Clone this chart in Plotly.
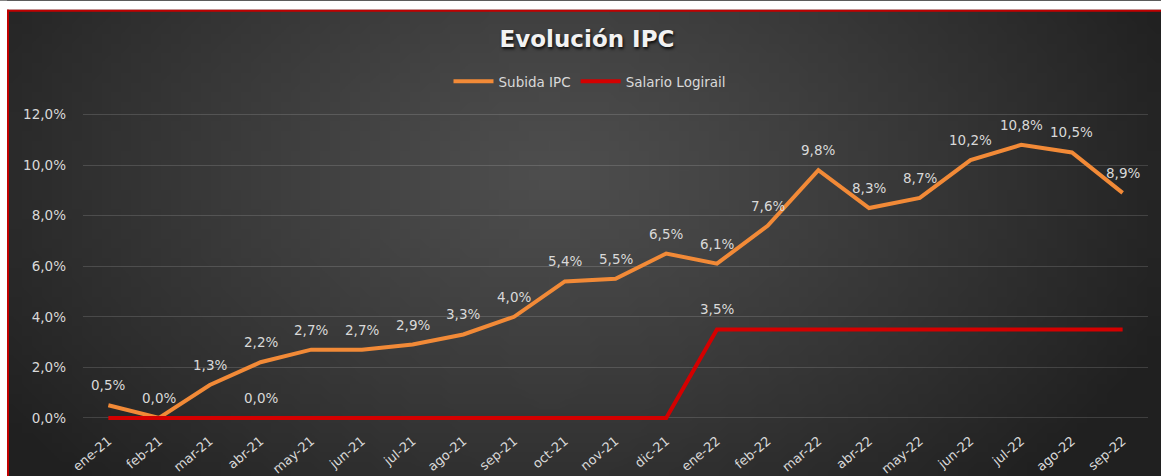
import base64, struct, zlib
import numpy as np
import plotly.graph_objects as go

# ---------------- data ----------------
months = ["ene-21", "feb-21", "mar-21", "abr-21", "may-21", "jun-21", "jul-21",
          "ago-21", "sep-21", "oct-21", "nov-21", "dic-21", "ene-22", "feb-22",
          "mar-22", "abr-22", "may-22", "jun-22", "jul-22", "ago-22", "sep-22"]
subida_ipc = [0.5, 0.0, 1.3, 2.2, 2.7, 2.7, 2.9, 3.3, 4.0, 5.4, 5.5, 6.5,
              6.1, 7.6, 9.8, 8.3, 8.7, 10.2, 10.8, 10.5, 8.9]
salario_logirail = [0.0, 0.0, 0.0, 0.0, 0.0, 0.0, 0.0, 0.0, 0.0, 0.0, 0.0, 0.0,
                    3.5, 3.5, 3.5, 3.5, 3.5, 3.5, 3.5, 3.5, 3.5]
salario_labelled = ["abr-21", "ene-22"]
y_ticks = [0, 2, 4, 6, 8, 10, 12]


def pct(v):
    return f"{v:.1f}".replace(".", ",") + "%"


# ---------------- geometry ----------------
W, H = 1161, 476
ML, MR, MT, MB = 83, 13, 111.5, 48
PW, PH = W - ML - MR, H - MT - MB


def px_to_paper_x(px):
    return (px - ML) / PW


def py_to_paper_y(py):
    return (H - MB - py) / PH


# ---------------- gradient background (PNG) ----------------
gw, gh = 116, 48
xs = (np.arange(gw) + 0.5) / gw
ys = (np.arange(gh) + 0.5) / gh
X, Y = np.meshgrid(xs, ys)
r = np.sqrt(((X - 0.47) / 0.58) ** 2 + ((Y - 0.35) / 0.95) ** 2)
r = np.clip(r, 0, 1)
val = (78 - (78 - 32) * r ** 1.2).astype(np.uint8)
rgb = np.stack([val, val, val], axis=-1)
raw = b"".join(b"\x00" + rgb[i].tobytes() for i in range(gh))


def chunk(tag, data):
    c = struct.pack(">I", len(data)) + tag + data
    return c + struct.pack(">I", zlib.crc32(tag + data) & 0xFFFFFFFF)


png = (b"\x89PNG\r\n\x1a\n"
       + chunk(b"IHDR", struct.pack(">IIBBBBB", gw, gh, 8, 2, 0, 0, 0))
       + chunk(b"IDAT", zlib.compress(raw, 9))
       + chunk(b"IEND", b""))
bg_uri = "data:image/png;base64," + base64.b64encode(png).decode()

# ---------------- figure ----------------
ORANGE = "#F28A37"
RED = "#D40000"
TXT = "#D9D9D9"
FONT = "DejaVu Sans"

fig = go.Figure()
fig.add_trace(go.Scatter(x=months, y=subida_ipc, mode="lines", name="Subida IPC",
                         line=dict(color=ORANGE, width=4), hoverinfo="skip"))
fig.add_trace(go.Scatter(x=months, y=salario_logirail, mode="lines",
                         name="Salario Logirail",
                         line=dict(color=RED, width=4), hoverinfo="skip"))

annotations = []
for m, v in zip(months, subida_ipc):
    annotations.append(dict(x=m, y=v, text=pct(v), showarrow=False, yshift=20,
                            font=dict(family=FONT, size=13.5, color=TXT)))
for m, v in zip(months, salario_logirail):
    if m in salario_labelled:
        annotations.append(dict(x=m, y=v, text=pct(v), showarrow=False, yshift=20,
                                font=dict(family=FONT, size=13.5, color=TXT)))

border = dict(color="#C00000", width=2)
fig.update_layout(
    width=W, height=H,
    margin=dict(l=ML, r=MR, t=MT, b=MB, pad=0, autoexpand=False),
    paper_bgcolor="#262626",
    plot_bgcolor="rgba(0,0,0,0)",
    title=dict(text="<b>Evolución IPC</b>", x=587 / W, xanchor="center",
               y=1 - 39 / H, yanchor="middle", yref="container", xref="container",
               font=dict(family=FONT, size=23, color="#F2F2F2",
                         shadow="1px 2px 3px rgba(0,0,0,0.85)")),
    showlegend=True,
    legend=dict(orientation="h", x=px_to_paper_x(590), xanchor="center",
                y=py_to_paper_y(81), yanchor="middle",
                font=dict(family=FONT, size=13.5, color=TXT),
                bgcolor="rgba(0,0,0,0)", itemwidth=40, tracegroupgap=0),
    xaxis=dict(type="category", range=[-0.5, len(months) - 0.5],
               showgrid=False, zeroline=False, showline=False, ticks="",
               tickangle=-40, tickfont=dict(family=FONT, size=13, color=TXT),
               ticklabelstandoff=2, fixedrange=True, automargin=False),
    yaxis=dict(range=[-0.4, 12.1], tickvals=y_ticks,
               ticktext=[pct(v) for v in y_ticks],
               showgrid=True, gridcolor="rgba(255,255,255,0.14)", gridwidth=1,
               zeroline=False, showline=False, ticks="",
               tickfont=dict(family=FONT, size=13.5, color=TXT),
               ticklabelstandoff=16, fixedrange=True, automargin=False),
    annotations=annotations,
    images=[dict(source=bg_uri, xref="paper", yref="paper",
                 x=px_to_paper_x(7), y=py_to_paper_y(9),
                 sizex=px_to_paper_x(W) - px_to_paper_x(7),
                 sizey=py_to_paper_y(9) - py_to_paper_y(H),
                 xanchor="left", yanchor="top", sizing="stretch", layer="below")],
    shapes=[
        # white outer margin (top and left) around the dark chart area
        dict(type="rect", xref="paper", yref="paper",
             x0=px_to_paper_x(0), x1=px_to_paper_x(W),
             y0=py_to_paper_y(9), y1=py_to_paper_y(0),
             line=dict(width=0), fillcolor="white", layer="below"),
        dict(type="rect", xref="paper", yref="paper",
             x0=px_to_paper_x(0), x1=px_to_paper_x(7),
             y0=py_to_paper_y(H), y1=py_to_paper_y(0),
             line=dict(width=0), fillcolor="white", layer="below"),
        dict(type="line", xref="paper", yref="paper",
             x0=px_to_paper_x(7), x1=px_to_paper_x(W),
             y0=py_to_paper_y(10), y1=py_to_paper_y(10), line=border, layer="above"),
        dict(type="line", xref="paper", yref="paper",
             x0=px_to_paper_x(8), x1=px_to_paper_x(8),
             y0=py_to_paper_y(9), y1=py_to_paper_y(H), line=border, layer="above"),
    ],
)

fig.write_html(
    "out.html",
    config={"displayModeBar": False},
    post_script=("document.body.style.margin='0';"
                 "document.body.style.overflow='hidden';"
                 "document.documentElement.style.overflow='hidden';"),
)
